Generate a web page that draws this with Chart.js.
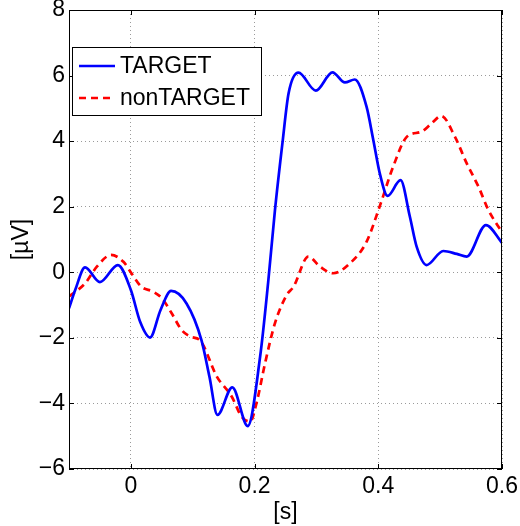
<!DOCTYPE html>
<html>
<head>
<meta charset="utf-8">
<script src="https://cdn.jsdelivr.net/npm/chart.js@4/dist/chart.umd.min.js"></script>
<style>
  html, body { margin:0; padding:0; background:#fff; }
  #wrap { width:520px; height:526px; }
</style>
</head>
<body>
<div id="wrap"><canvas id="erp"></canvas></div>
<script>
// values (time in s, amplitude in µV)
const targetT = [-0.1, -0.09, -0.074, -0.05, -0.021, 0, 0.015, 0.031, 0.048, 0.065, 0.09, 0.114, 0.127, 0.14, 0.164, 0.189, 0.209, 0.222, 0.233, 0.245, 0.255, 0.271, 0.299, 0.326, 0.346, 0.362, 0.381, 0.392, 0.403, 0.415, 0.436, 0.451, 0.462, 0.478, 0.505, 0.527, 0.543, 0.574, 0.6];
const targetV = [-1.10, -0.54, 0.15, -0.30, 0.22, -0.54, -1.51, -1.99, -1.15, -0.57, -0.95, -2.06, -3.18, -4.35, -3.51, -4.69, -2.57, -0.30, 1.90, 3.93, 5.46, 6.09, 5.54, 6.10, 5.79, 5.88, 5.05, 4.03, 2.97, 2.33, 2.81, 1.70, 0.78, 0.22, 0.65, 0.56, 0.48, 1.44, 0.90];

const nonTargetT = [-0.1, -0.074, -0.055, -0.032, -0.012, 0.001, 0.017, 0.036, 0.05, 0.066, 0.082, 0.096, 0.112, 0.139, 0.163, 0.179, 0.193, 0.203, 0.217, 0.233, 0.252, 0.263, 0.287, 0.306, 0.327, 0.354, 0.381, 0.403, 0.424, 0.446, 0.47, 0.486, 0.502, 0.524, 0.543, 0.562, 0.578, 0.6];
const nonTargetV = [-0.74, -0.34, 0.17, 0.53, 0.32, -0.03, -0.44, -0.59, -0.79, -1.25, -1.76, -1.96, -2.08, -3.18, -3.79, -4.40, -4.55, -4.00, -2.77, -1.55, -0.69, -0.44, 0.48, 0.17, -0.03, 0.27, 0.93, 2.05, 3.22, 4.13, 4.29, 4.54, 4.77, 4.13, 3.32, 2.61, 1.90, 1.22];

const xTicks = [0, 0.2, 0.4, 0.6];
const yTicks = [-6, -4, -2, 0, 2, 4, 6, 8];

const FONT = "'Liberation Sans', Arial, Helvetica, sans-serif";

function pts(xs, ys){ return xs.map((x,i) => ({x, y: ys[i]})); }
function fmtTick(v){
  const s = String(Math.round(v*10)/10);
  return s.replace('-', '\u2212');
}

// black box with inward tick marks, MATLAB style
const frame = {
  id: 'frame',
  afterDatasetsDraw(chart){
    const {ctx, chartArea:a, scales:{x, y}} = chart;
    ctx.save();
    ctx.strokeStyle = '#000';
    ctx.lineWidth = 1;
    ctx.strokeRect(a.left + 0.5, a.top + 0.5, a.right - a.left - 1, a.bottom - a.top - 1);
    ctx.beginPath();
    const tl = 5;
    xTicks.forEach(v => {
      const px = Math.round(x.getPixelForValue(v)) + 0.5;
      ctx.moveTo(px, a.bottom); ctx.lineTo(px, a.bottom - tl);
      ctx.moveTo(px, a.top); ctx.lineTo(px, a.top + tl);
    });
    yTicks.forEach(v => {
      const py = Math.round(y.getPixelForValue(v)) + 0.5;
      ctx.moveTo(a.left, py); ctx.lineTo(a.left + tl, py);
      ctx.moveTo(a.right, py); ctx.lineTo(a.right - tl, py);
    });
    ctx.stroke();
    ctx.restore();
  }
};

// boxed legend in the upper left corner
const boxLegend = {
  id: 'boxLegend',
  afterDraw(chart){
    const {ctx} = chart;
    const bx = 72, by = 47, bw = 189, bh = 68;
    ctx.save();
    ctx.fillStyle = '#fff';
    ctx.fillRect(bx, by, bw, bh);
    ctx.strokeStyle = '#000';
    ctx.lineWidth = 1;
    ctx.strokeRect(bx + 0.5, by + 0.5, bw, bh);
    ctx.font = '23px ' + FONT;
    ctx.textBaseline = 'middle';
    chart.data.datasets.forEach((ds, i) => {
      const ly = by + 19 + i * 32;
      ctx.beginPath();
      ctx.strokeStyle = ds.borderColor;
      ctx.lineWidth = ds.borderWidth;
      ctx.setLineDash(ds.borderDash || []);
      ctx.moveTo(bx + 7, ly); ctx.lineTo(bx + 43, ly);
      ctx.stroke();
      ctx.setLineDash([]);
      ctx.fillStyle = '#000';
      ctx.fillText(ds.label, bx + 48, ly + 1);
    });
    ctx.restore();
  }
};

new Chart(document.getElementById('erp'), {
  type: 'line',
  data: {
    datasets: [
      {
        label: 'TARGET',
        data: pts(targetT, targetV),
        borderColor: '#0000ff',
        borderWidth: 2.7,
        pointRadius: 0,
        cubicInterpolationMode: 'monotone',
      },
      {
        label: 'nonTARGET',
        data: pts(nonTargetT, nonTargetV),
        borderColor: '#ff0000',
        borderWidth: 2.7,
        borderDash: [7, 5],
        pointRadius: 0,
        cubicInterpolationMode: 'monotone',
      }
    ]
  },
  options: {
    responsive: true,
    maintainAspectRatio: false,
    animation: false,
    layout: { padding: { left:0, right:18, top:10, bottom:0 } },
    plugins: { legend: { display:false }, tooltip: { enabled:false } },
    scales: {
      x: {
        type: 'linear', min: -0.1, max: 0.6,
        afterBuildTicks: s => { s.ticks = xTicks.map(v => ({value:v})); },
        afterFit: s => { s.height = 57; s.paddingLeft = 0; s.paddingRight = 0; },
        grid: { color:'#9a9a9a', lineWidth:1, drawTicks:false },
        border: { display:false, dash:[1,3] },
        ticks: { color:'#000', padding:8, maxRotation:0, font:{family:FONT, size:23, lineHeight:0.8}, callback: v => fmtTick(v) },
        title: { display:true, text:'[s]', color:'#000', padding:0, font:{family:FONT, size:23} }
      },
      y: {
        min: -6, max: 8,
        afterBuildTicks: s => { s.ticks = yTicks.map(v => ({value:v})); },
        afterFit: s => { s.width = 69; s.paddingTop = 0; s.paddingBottom = 0; },
        grid: { color:'#9a9a9a', lineWidth:1, drawTicks:false },
        border: { display:false, dash:[1,3] },
        ticks: { color:'#000', padding:4, font:{family:FONT, size:23, lineHeight:0.8}, callback: v => fmtTick(v) },
        title: { display:true, text:'[\u00b5V]', color:'#000', padding:8, font:{family:FONT, size:23} }
      }
    }
  },
  plugins: [frame, boxLegend]
});
</script>
</body>
</html>
